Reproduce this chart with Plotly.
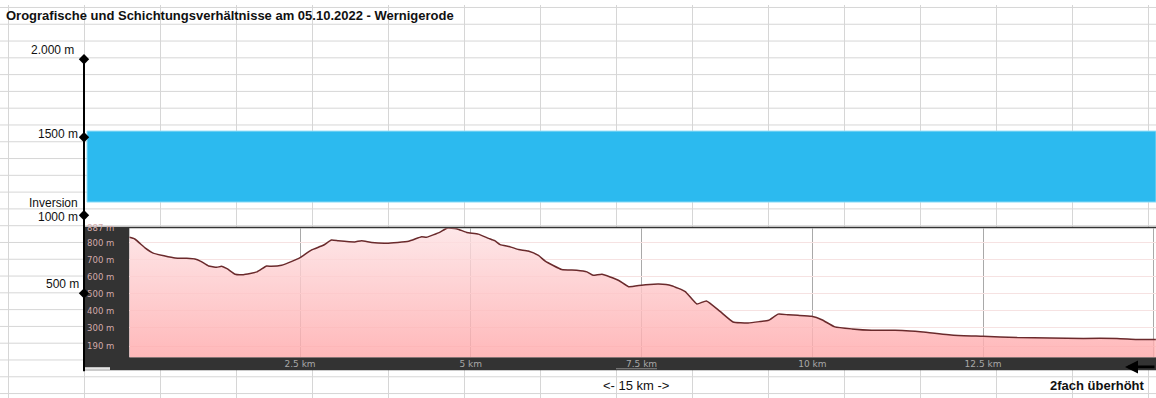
import plotly.graph_objects as go

# ---------------- data ----------------
TITLE = "Orografische und Schichtungsverhältnisse am 05.10.2022 - Wernigerode"

# elevation profile (distance in km, elevation in m)
DIST_KM = [0.0, 0.08, 0.23, 0.35, 0.67, 0.84, 0.96, 1.04, 1.16, 1.28, 1.35, 1.43, 1.55, 1.67,
           1.87, 2.01, 2.08, 2.23, 2.38, 2.50, 2.67, 2.84, 2.96, 3.06, 3.30, 3.40, 3.55, 3.77,
           4.09, 4.28, 4.35, 4.55, 4.65, 4.79, 4.94, 5.11, 5.26, 5.35, 5.43, 5.57, 5.70, 5.84,
           5.99, 6.09, 6.33, 6.55, 6.70, 6.79, 6.92, 7.16, 7.31, 7.50, 7.62, 7.75, 7.94, 8.14,
           8.31, 8.45, 8.65, 8.84, 9.06, 9.23, 9.36, 9.50, 9.65, 9.79, 9.99, 10.14, 10.33, 10.58,
           10.87, 11.21, 11.43, 11.58, 12.07, 12.50, 13.00, 13.48, 13.97, 14.46, 14.75, 15.03]
ELEV_M = [833, 823, 771, 740, 711, 709, 705, 693, 664, 656, 662, 648, 615, 613,
          629, 664, 662, 668, 691, 713, 759, 786, 817, 813, 806, 813, 802, 798,
          810, 837, 833, 864, 887, 884, 862, 852, 827, 813, 790, 778, 761, 752,
          726, 693, 643, 639, 629, 609, 615, 580, 542, 551, 555, 557, 548, 513,
          440, 458, 396, 334, 328, 336, 344, 380, 376, 373, 367, 347, 305, 293,
          285, 285, 281, 276, 256, 250, 242, 239, 237, 237, 231, 231]

PROFILE_Y_TICKS = [887, 800, 700, 600, 500, 400, 300, 190]
PROFILE_Y_LABELS = ["887 m", "800 m", "700 m", "600 m", "500 m", "400 m", "300 m", "190 m"]
PROFILE_X_TICKS = [2.5, 5, 7.5, 10, 12.5, 15]
PROFILE_X_LABELS = ["2.5 km", "5 km", "7.5 km", "10 km", "12.5 km", "15 km"]

ALT_VALUES = [2000, 1500, 1000, 500]
ALT_LABELS = ["2.000 m", "1500 m", "1000 m", "500 m"]

INVERSION_BASE_M = 1085
INVERSION_TOP_M = 1540
INVERSION_LABEL = "Inversion"

BOTTOM_LABEL = "<- 15 km ->"
EXAGGERATION_LABEL = "2fach überhöht"

# ---------------- layout geometry (pixels) ----------------
W, H = 1156, 398
KM_PX = 68.3          # pixels per km in profile
X0_PX = 129.3         # pixel of 0 km
ALT_ZERO_PX = 371.0   # pixel of 0 m on outer altitude scale
ALT_PX_PER_M = 0.158
AXIS_X_PX = 84
BAND_LEFT_PX = 87

def px2paper_x(x):
    return x / W

def px2paper_y(y):
    return 1 - y / H

def px2km(x):
    return (x - X0_PX) / KM_PX

axis_x_km = px2km(AXIS_X_PX)
band_left_km = px2km(BAND_LEFT_PX)
band_right_km = px2km(W)

fig = go.Figure()

# ---------------- outer (altitude) subplot : x3/y3 ----------------
fig.add_trace(go.Scatter(
    x=[band_left_km, band_right_km, band_right_km, band_left_km, band_left_km],
    y=[INVERSION_BASE_M, INVERSION_BASE_M, INVERSION_TOP_M, INVERSION_TOP_M, INVERSION_BASE_M],
    mode="lines", fill="toself", fillcolor="#2cbaef",
    line=dict(color="#8fdcf7", width=1),
    xaxis="x3", yaxis="y3", hoverinfo="skip", showlegend=False))

# ---------------- profile subplot : x2/y2 ----------------
fig.add_trace(go.Scatter(
    x=DIST_KM, y=ELEV_M, mode="lines",
    line=dict(color="#6a2a2c", width=1.5, shape="spline", smoothing=0.4),
    fill="tozeroy",
    fillgradient=dict(type="vertical",
                      colorscale=[[0, "rgba(255,168,170,0.82)"], [1, "rgba(253,226,228,0.82)"]],
                      start=126, stop=887),
    xaxis="x2", yaxis="y2", hoverinfo="skip", showlegend=False))

# outer axis line + diamonds (drawn last, on top)
fig.add_trace(go.Scatter(
    x=[axis_x_km, axis_x_km], y=[0, max(ALT_VALUES)], mode="lines",
    line=dict(color="black", width=2),
    xaxis="x3", yaxis="y3", hoverinfo="skip", showlegend=False))
fig.add_trace(go.Scatter(
    x=[axis_x_km] * len(ALT_VALUES), y=ALT_VALUES, mode="markers",
    marker=dict(symbol="diamond", size=8, color="black"),
    xaxis="x3", yaxis="y3", hoverinfo="skip", showlegend=False))

# ---------------- background shapes (spreadsheet grid + profile panel) ----------------
path = []
x = 8
while x <= W:
    path.append(f"M{px2paper_x(x + 0.5)},{px2paper_y(0)} L{px2paper_x(x + 0.5)},{px2paper_y(H)}")
    x += 76
y = 2
while y <= H:
    path.append(f"M{px2paper_x(0)},{px2paper_y(y + 0.5)} L{px2paper_x(W)},{px2paper_y(y + 0.5)}")
    y += 17
shapes = [
    dict(type="path", path=" ".join(path), xref="paper", yref="paper",
         line=dict(color="#d6d6d6", width=1), layer="below"),
    # dark frame of profile
    dict(type="rect", xref="paper", yref="paper",
         x0=px2paper_x(84), x1=px2paper_x(W), y0=px2paper_y(370), y1=px2paper_y(224.5),
         fillcolor="#333333", line=dict(width=0), layer="below"),
    # white plot area
    dict(type="rect", xref="paper", yref="paper",
         x0=px2paper_x(X0_PX), x1=px2paper_x(W), y0=px2paper_y(356.7), y1=px2paper_y(226),
         fillcolor="white", line=dict(width=0), layer="below"),
    # little scrollbar handle
    dict(type="rect", xref="paper", yref="paper",
         x0=px2paper_x(85), x1=px2paper_x(110), y0=px2paper_y(369.5), y1=px2paper_y(366.8),
         fillcolor="#e6e6e6", line=dict(width=0), layer="below"),
    dict(type="rect", xref="paper", yref="paper",
         x0=px2paper_x(616), x1=px2paper_x(657), y0=px2paper_y(369), y1=px2paper_y(367.8),
         fillcolor="#8a8a8a", line=dict(width=0), layer="below"),
]

# ---------------- annotations ----------------
LABEL_FONT = dict(family="Liberation Sans, Arial", size=12, color="#111111")
alt_shift = [(-8, 9), (-4, 3), (-4, -2), (-3, 9)]
annotations = [
    dict(text=f"<b>{TITLE}</b>", xref="paper", yref="paper",
         x=px2paper_x(4), y=px2paper_y(11), xanchor="left", yanchor="middle",
         showarrow=False, font=dict(family="Liberation Sans, Arial", size=13, color="#111111")),
]
for val, lab, (dx, dy) in zip(ALT_VALUES, ALT_LABELS, alt_shift):
    annotations.append(dict(text=lab, xref="x3", yref="y3", x=axis_x_km, y=val,
                            xanchor="right", yanchor="middle", xshift=dx, yshift=dy,
                            showarrow=False, font=LABEL_FONT))
annotations.append(dict(text=INVERSION_LABEL, xref="x3", yref="y3", x=axis_x_km,
                        y=INVERSION_BASE_M, xanchor="right", yanchor="middle",
                        xshift=-4, yshift=-1, showarrow=False, font=LABEL_FONT))
annotations.append(dict(text=BOTTOM_LABEL, xref="paper", yref="paper",
                        x=px2paper_x(635.5), y=px2paper_y(385.5), xanchor="center",
                        yanchor="middle", showarrow=False,
                        font=dict(family="Liberation Sans, Arial", size=13, color="#111111")))
annotations.append(dict(text=f"<b>{EXAGGERATION_LABEL}</b>", xref="paper", yref="paper",
                        x=px2paper_x(1147), y=px2paper_y(385), xanchor="right",
                        yanchor="middle", showarrow=False,
                        font=dict(family="Liberation Sans, Arial", size=13, color="#111111")))
# black arrow bottom right
annotations.append(dict(text="", xref="paper", yref="paper",
                        x=px2paper_x(1125), y=px2paper_y(366.5), ax=32, ay=0,
                        showarrow=True, arrowhead=2, arrowsize=1, arrowwidth=2.6,
                        arrowcolor="black"))

fig.update_layout(
    width=W, height=H,
    margin=dict(l=0, r=0, t=0, b=0),
    paper_bgcolor="white", plot_bgcolor="rgba(0,0,0,0)",
    showlegend=False,
    shapes=shapes,
    annotations=annotations,
    # profile axes
    xaxis2=dict(domain=[px2paper_x(X0_PX), 1], range=[0, px2km(W)], anchor="y2",
                tickvals=PROFILE_X_TICKS, ticktext=PROFILE_X_LABELS,
                showgrid=True, gridcolor="#a9a9a9", gridwidth=1.4,
                zeroline=False, showline=False, ticks="",
                tickfont=dict(family="DejaVu Sans", size=9, color="#a8a8a8")),
    yaxis2=dict(domain=[px2paper_y(356.7), px2paper_y(226)], range=[126, 887], anchor="x2",
                tickvals=PROFILE_Y_TICKS, ticktext=PROFILE_Y_LABELS,
                showgrid=True, gridcolor="#f6e2e2", gridwidth=1,
                zeroline=False, showline=False, ticks="", ticklabelstandoff=14,
                tickfont=dict(family="DejaVu Sans", size=8.5, color="#d2aaaa")),
    # outer altitude axes
    xaxis3=dict(domain=[0, 1], range=[px2km(0), px2km(W)], anchor="y3", visible=False),
    yaxis3=dict(domain=[0, 1],
                range=[(ALT_ZERO_PX - H) / ALT_PX_PER_M, ALT_ZERO_PX / ALT_PX_PER_M],
                anchor="x3", visible=False),
)

fig.write_html(
    "out.html",
    config={"displayModeBar": False},
    post_script=("document.body.style.margin='0';document.body.style.padding='0';"
                 "document.documentElement.style.overflow='hidden';"
                 "var gd=document.getElementById('{plot_id}');"
                 "gd.style.position='absolute';gd.style.left='0px';gd.style.top='0px';"),
)
